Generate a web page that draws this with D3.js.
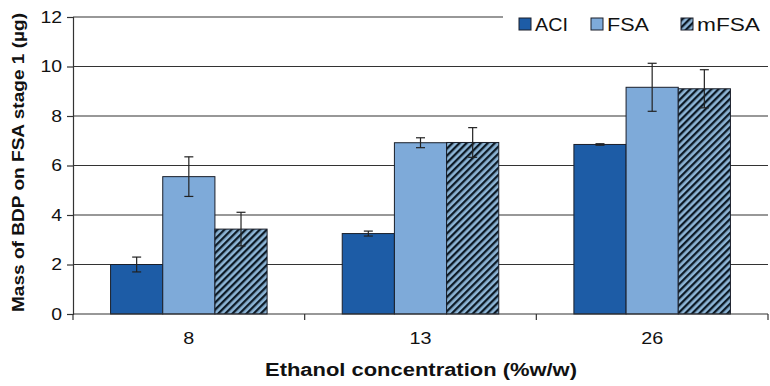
<!DOCTYPE html>
<html><head><meta charset="utf-8">
<script src="https://cdn.jsdelivr.net/npm/d3@7"></script>
<style>body{margin:0;background:#fff}svg{display:block}text{font-family:"Liberation Sans",Arial,sans-serif;fill:#111}</style>
</head><body>
<script>
const categories = ["8", "13", "26"];
const seriesNames = ["ACI", "FSA", "mFSA"];
const aciValues = [2.0, 3.25, 6.85];
const fsaValues = [5.55, 6.92, 9.16];
const mfsaValues = [3.43, 6.93, 9.1];
const aciErrors = [0.3, 0.1, 0.03];
const fsaErrors = [0.8, 0.2, 0.97];
const mfsaErrors = [0.68, 0.6, 0.77];
const yTicks = [0, 2, 4, 6, 8, 10, 12];

const W = 770, H = 386;
const m = {l: 73, r: 2, t: 17, b: 72};
const svg = d3.select("body").append("svg").attr("width", W).attr("height", H);
const defs = svg.append("defs");
const pat = defs.append("pattern").attr("id", "hatch").attr("patternUnits", "userSpaceOnUse")
  .attr("width", 5).attr("height", 5).attr("patternTransform", "rotate(45)");
pat.append("rect").attr("width", 5).attr("height", 5).attr("fill", "#8db5d6");
pat.append("rect").attr("width", 2.3).attr("height", 5).attr("fill", "#0d1a26");

const x = d3.scaleBand().domain(categories).range([m.l, W - m.r]).paddingInner(0).paddingOuter(0);
const inner = d3.scaleBand().domain(seriesNames).range([0, x.bandwidth()]).paddingInner(0).paddingOuter(0.72);
const y = d3.scaleLinear().domain([0, 12]).range([H - m.b, m.t]);

const fills = {ACI: "#1d5ca6", FSA: "#7eaad9", mFSA: "url(#hatch)"};
const vals = {ACI: aciValues, FSA: fsaValues, mFSA: mfsaValues};
const errs = {ACI: aciErrors, FSA: fsaErrors, mFSA: mfsaErrors};

// gridlines
svg.append("g").selectAll("line").data(yTicks.filter(d => d > 0)).join("line")
  .attr("x1", m.l).attr("x2", W - m.r).attr("y1", d => y(d)).attr("y2", d => y(d))
  .attr("stroke", "#333").attr("stroke-width", 1.2);

// y axis
const ya = svg.append("g").attr("transform", `translate(${m.l},0)`)
  .call(d3.axisLeft(y).tickValues(yTicks).tickSize(6).tickPadding(5));
ya.select(".domain").attr("stroke", "#333").attr("stroke-width", 1.2);
ya.selectAll(".tick line").attr("stroke", "#333").attr("stroke-width", 1.2);
ya.selectAll("text").style("font-size", "17px").attr("fill", "#111")
  .attr("textLength", d => String(d).length * 10.8).attr("lengthAdjust", "spacingAndGlyphs");

// bars
const data = [];
categories.forEach((c, i) => seriesNames.forEach(s => data.push({c, s, v: vals[s][i], e: errs[s][i]})));
const bars = svg.append("g");
bars.selectAll("rect").data(data).join("rect")
  .attr("x", d => x(d.c) + inner(d.s)).attr("width", inner.bandwidth())
  .attr("y", d => y(d.v)).attr("height", d => y(0) - y(d.v))
  .attr("fill", d => fills[d.s]).attr("stroke", "#1a1f2a").attr("stroke-width", 1);

// error bars
const eb = svg.append("g").attr("stroke", "#222").attr("stroke-width", 1.2);
data.forEach(d => {
  const cx = x(d.c) + inner(d.s) + inner.bandwidth() / 2;
  eb.append("line").attr("x1", cx).attr("x2", cx).attr("y1", y(d.v + d.e)).attr("y2", y(d.v - d.e));
  [d.v + d.e, d.v - d.e].forEach(v => eb.append("line").attr("x1", cx - 4.5).attr("x2", cx + 4.5).attr("y1", y(v)).attr("y2", y(v)));
});

// x axis
const xa = svg.append("g").attr("transform", `translate(0,${y(0)})`)
  .call(d3.axisBottom(x).tickSize(0).tickPadding(18));
xa.select(".domain").remove();
xa.selectAll("text").style("font-size", "17px").attr("fill", "#111")
  .attr("textLength", d => String(d).length * 11).attr("lengthAdjust", "spacingAndGlyphs");
svg.append("line").attr("x1", m.l).attr("x2", W - m.r).attr("y1", y(0)).attr("y2", y(0)).attr("stroke", "#333").attr("stroke-width", 1.2);
svg.append("g").selectAll("line").data(d3.range(categories.length + 1)).join("line")
  .attr("x1", i => m.l + i * x.step()).attr("x2", i => m.l + i * x.step())
  .attr("y1", y(0)).attr("y2", y(0) + 6).attr("stroke", "#333").attr("stroke-width", 1.2);

// titles
svg.append("text").attr("x", 421).attr("y", 376).attr("text-anchor", "middle")
  .style("font-size", "18px").style("font-weight", "bold")
  .attr("textLength", 312).attr("lengthAdjust", "spacingAndGlyphs").text("Ethanol concentration (%w/w)");
svg.append("text").attr("transform", `translate(24,${(m.t + y(0)) / 2 - 3}) rotate(-90)`).attr("text-anchor", "middle")
  .style("font-size", "17px").style("font-weight", "bold")
  .attr("textLength", 299).attr("lengthAdjust", "spacingAndGlyphs").text("Mass of BDP on FSA stage 1 (µg)");

// legend
svg.append("rect").attr("x", 503).attr("y", 0).attr("width", 266).attr("height", 36).attr("fill", "#fff");
const lx = [519, 591, 681];
const lw = [33, 42, 63];
const lg = svg.append("g");
seriesNames.forEach((s, i) => {
  lg.append("rect").attr("x", lx[i]).attr("y", 18).attr("width", 12).attr("height", 12)
    .attr("fill", fills[s]).attr("stroke", "#1a1f2a").attr("stroke-width", 1);
  lg.append("text").attr("x", lx[i] + 16).attr("y", 31).style("font-size", "18px")
    .attr("textLength", lw[i]).attr("lengthAdjust", "spacingAndGlyphs").text(s);
});
</script>
</body></html>
